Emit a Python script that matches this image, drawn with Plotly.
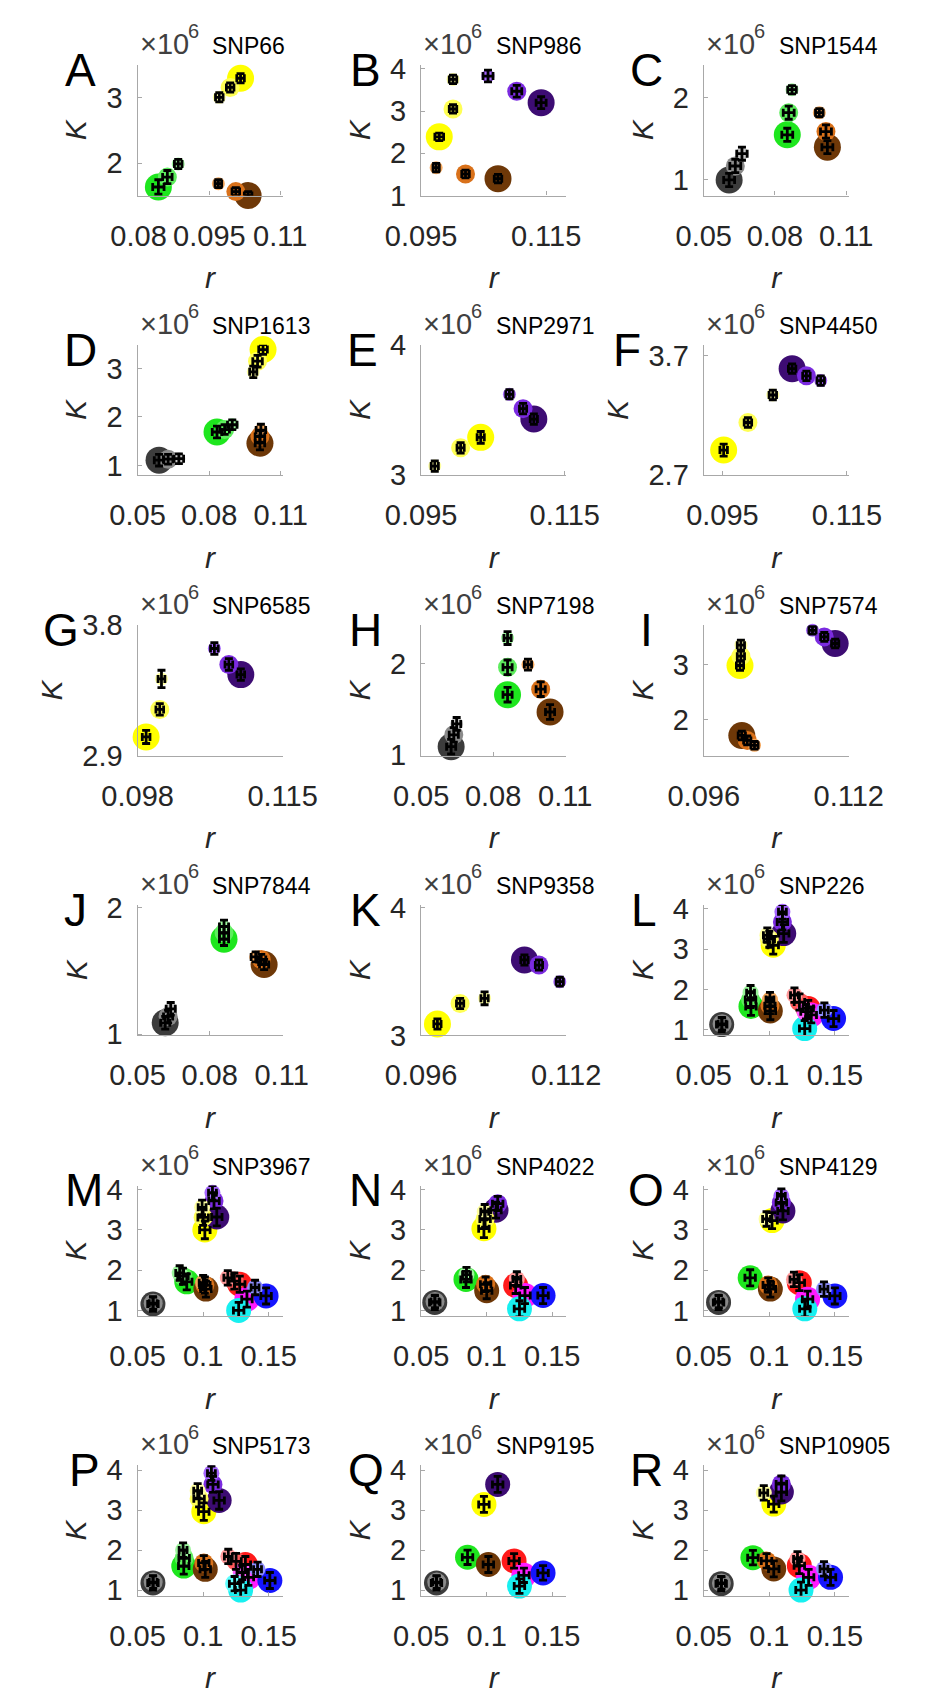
import plotly.graph_objects as go

W, H = 929, 1701
FONT = "Liberation Sans, Arial, Helvetica, sans-serif"

# ------------------------------------------------------------------ data
LETTERS = list("ABCDEFGHIJKLMNOPQR")
SNPS = ["SNP66", "SNP986", "SNP1544", "SNP1613", "SNP2971", "SNP4450",
        "SNP6585", "SNP7198", "SNP7574", "SNP7844", "SNP9358", "SNP226",
        "SNP3967", "SNP4022", "SNP4129", "SNP5173", "SNP9195", "SNP10905"]

# axis limits (r) and (K in units of 10^6)
X_RANGES = [[0.0798, 0.1105], [0.095, 0.1182], [0.05, 0.1111], [0.05, 0.1108],
            [0.095, 0.1152], [0.092, 0.1153], [0.098, 0.115], [0.05, 0.1104],
            [0.096, 0.112], [0.05, 0.1104], [0.096, 0.112], [0.05, 0.1606],
            [0.05, 0.1606], [0.05, 0.1606], [0.05, 0.1606], [0.05, 0.1606],
            [0.05, 0.1606], [0.05, 0.1606]]
Y_RANGES = [[1.51, 3.49], [1.0, 4.09], [0.81, 2.40], [0.8, 3.49],
            [3.0, 4.0], [2.7, 3.79], [2.9, 3.8], [0.99, 2.42],
            [1.34, 3.71], [0.99, 2.02], [3.0, 4.02], [0.86, 4.1],
            [0.86, 4.1], [0.86, 4.1], [0.86, 4.1], [0.86, 4.12],
            [0.86, 4.12], [0.86, 4.12]]
X_TICKS = [[0.08, 0.095, 0.11], [0.095, 0.115], [0.05, 0.08, 0.11], [0.05, 0.08, 0.11],
           [0.095, 0.115], [0.095, 0.115], [0.098, 0.115], [0.05, 0.08, 0.11],
           [0.096, 0.112], [0.05, 0.08, 0.11], [0.096, 0.112], [0.05, 0.1, 0.15],
           [0.05, 0.1, 0.15], [0.05, 0.1, 0.15], [0.05, 0.1, 0.15], [0.05, 0.1, 0.15],
           [0.05, 0.1, 0.15], [0.05, 0.1, 0.15]]
Y_TICKS = [[2, 3], [1, 2, 3, 4], [1, 2], [1, 2, 3],
           [3, 4], [2.7, 3.7], [2.9, 3.8], [1, 2],
           [2, 3], [1, 2], [3, 4], [1, 2, 3, 4],
           [1, 2, 3, 4], [1, 2, 3, 4], [1, 2, 3, 4], [1, 2, 3, 4],
           [1, 2, 3, 4], [1, 2, 3, 4]]

# points: x = r, y = K (x10^6), c = colour group, s = size class (0 small,1 medium,2 large)
A_x = [0.0842, 0.0861, 0.0884, 0.0971, 0.0994, 0.1016, 0.0969, 0.1006, 0.1032]
A_y = [1.64, 1.79, 1.99, 3.00, 3.15, 3.29, 1.69, 1.57, 1.51]
A_c = "gggyyyooo"
A_s = [2, 1, 0, 0, 1, 2, 0, 1, 2]
A_ex = [0.0012, 0.001, 0.0008, 0.0008, 0.0008, 0.0008, 0.0007, 0.0008, 0.0008]
A_ey = [0.11, 0.10, 0.07, 0.07, 0.07, 0.07, 0.06, 0.06, 0.06]

B_x = [0.1001, 0.1001, 0.0979, 0.0974, 0.1021, 0.1073, 0.1057, 0.1103, 0.1142]
B_y = [3.75, 3.05, 2.39, 1.66, 1.51, 1.40, 3.83, 3.47, 3.20]
B_c = "yyyoooppp"
B_s = [0, 1, 2, 0, 1, 2, 0, 1, 2]
B_ex = [0.0006, 0.0006, 0.0007, 0.0005, 0.0006, 0.0006, 0.0008, 0.0008, 0.0008]
B_ey = [0.10, 0.10, 0.09, 0.10, 0.09, 0.10, 0.14, 0.14, 0.14]

C_x = [0.0607, 0.0633, 0.0661, 0.0852, 0.0858, 0.0872, 0.1021, 0.1015, 0.0987]
C_y = [1.00, 1.17, 1.32, 1.55, 1.82, 2.10, 1.40, 1.59, 1.82]
C_c = "kkkgggooo"
C_s = [2, 1, 0, 2, 1, 0, 2, 1, 0]
C_ex = [0.0023, 0.0023, 0.0022, 0.0023, 0.0023, 0.0018, 0.0023, 0.0023, 0.0016]
C_ey = [0.08, 0.08, 0.08, 0.08, 0.08, 0.05, 0.08, 0.08, 0.05]

D_x = [0.0590, 0.0628, 0.0673, 0.0833, 0.0865, 0.0897, 0.1013, 0.1013, 0.1017, 0.1026, 0.1003, 0.0985]
D_y = [1.11, 1.13, 1.14, 1.69, 1.74, 1.84, 1.46, 1.60, 1.73, 3.39, 3.15, 2.93]
D_c = "kkkgggoooyyy"
D_s = [2, 1, 0, 2, 1, 0, 2, 1, 0, 2, 1, 0]
D_ex = [0.002, 0.002, 0.002, 0.002, 0.002, 0.002, 0.002, 0.002, 0.002, 0.0018, 0.002, 0.0015]
D_ey = [0.12, 0.10, 0.10, 0.12, 0.10, 0.10, 0.14, 0.12, 0.12, 0.10, 0.12, 0.12]

E_x = [0.0969, 0.1005, 0.1033, 0.1073, 0.1092, 0.1107]
E_y = [3.07, 3.21, 3.29, 3.62, 3.51, 3.43]
E_c = "yyyppp"
E_s = [0, 1, 2, 0, 1, 2]
E_ex = [0.0005, 0.0005, 0.0005, 0.0005, 0.0005, 0.0005]
E_ey = [0.04, 0.04, 0.045, 0.035, 0.04, 0.04]

F_x = [0.0952, 0.0991, 0.1031, 0.1062, 0.1085, 0.1108]
F_y = [2.91, 3.14, 3.37, 3.59, 3.53, 3.49]
F_c = "yyyppp"
F_s = [2, 1, 0, 2, 1, 0]
F_ex = [0.0006, 0.0006, 0.0006, 0.0006, 0.0006, 0.0006]
F_ey = [0.05, 0.04, 0.04, 0.04, 0.04, 0.04]

G_x = [0.0990, 0.1006, 0.1008, 0.1070, 0.1087, 0.1101]
G_y = [3.03, 3.22, 3.43, 3.64, 3.53, 3.46]
G_c = "yyyppp"
G_s = [2, 1, 0, 0, 1, 2]
G_ex = [0.00045, 0.00045, 0.0004, 0.00045, 0.00045, 0.00045]
G_ey = [0.045, 0.04, 0.06, 0.04, 0.04, 0.04]

H_x = [0.0625, 0.0636, 0.0648, 0.0860, 0.0860, 0.0860, 0.0945, 0.0998, 0.1037]
H_y = [1.09, 1.22, 1.34, 1.66, 1.96, 2.28, 1.99, 1.72, 1.47]
H_c = "kkkgggooo"
H_s = [2, 1, 0, 2, 1, 0, 0, 1, 2]
H_ex = [0.0019, 0.0019, 0.0017, 0.0019, 0.0019, 0.0015, 0.0015, 0.0019, 0.0019]
H_ey = [0.08, 0.08, 0.07, 0.08, 0.08, 0.07, 0.06, 0.08, 0.08]

I_x = [0.1000, 0.1001, 0.1001, 0.1002, 0.1008, 0.1016, 0.1080, 0.1093, 0.1105]
I_y = [2.98, 3.15, 3.35, 1.71, 1.62, 1.53, 3.62, 3.50, 3.38]
I_c = "yyyoooppp"
I_s = [2, 1, 0, 2, 1, 0, 0, 1, 2]
I_ex = [0.0004, 0.0004, 0.0004, 0.0004, 0.0004, 0.0004, 0.0004, 0.0004, 0.0004]
I_ey = [0.09, 0.09, 0.09, 0.08, 0.08, 0.07, 0.07, 0.08, 0.08]

J_x = [0.0615, 0.0627, 0.0638, 0.0860, 0.0860, 0.0860, 0.1027, 0.1015, 0.0992]
J_y = [1.09, 1.14, 1.20, 1.75, 1.80, 1.85, 1.55, 1.59, 1.61]
J_c = "kkkgggooo"
J_s = [2, 1, 0, 2, 1, 0, 2, 1, 0]
J_ex = [0.0019, 0.0019, 0.0019, 0.0019, 0.0019, 0.0019, 0.0019, 0.0019, 0.0019]
J_ey = [0.05, 0.05, 0.05, 0.05, 0.05, 0.05, 0.04, 0.04, 0.04]

K_x = [0.0978, 0.1003, 0.1030, 0.1074, 0.1090, 0.1113]
K_y = [3.09, 3.25, 3.29, 3.59, 3.55, 3.42]
K_c = "yyyppp"
K_s = [2, 1, 0, 2, 1, 0]
K_ex = [0.0004, 0.0004, 0.0004, 0.0004, 0.0004, 0.0004]
K_ey = [0.04, 0.04, 0.05, 0.04, 0.04, 0.035]

L_x = [0.0637, 0.0640, 0.0860, 0.0857, 0.0857, 0.1030, 0.1000, 0.0985, 0.1110, 0.1100, 0.1100,
       0.1008, 0.1005, 0.1005, 0.1297, 0.1230, 0.1192, 0.1320, 0.1280, 0.1270, 0.1490, 0.1420]
L_y = [1.13, 1.15, 1.58, 1.75, 1.92, 3.10, 3.25, 3.35, 3.39, 3.68, 3.93,
       1.47, 1.60, 1.75, 1.53, 1.69, 1.86, 1.37, 1.45, 1.03, 1.28, 1.49]
L_c = "kkgggyyypppooorrrmmcbb"
L_s = [2, 1, 2, 1, 0, 2, 1, 0, 2, 1, 0, 2, 1, 0, 2, 1, 0, 2, 1, 2, 2, 0]
L_ex = [0.004, 0.003, 0.004, 0.004, 0.003, 0.004, 0.004, 0.003, 0.004, 0.004, 0.003,
        0.004, 0.004, 0.003, 0.004, 0.004, 0.003, 0.004, 0.004, 0.004, 0.004, 0.003]
L_ey = [0.18, 0.15, 0.22, 0.20, 0.18, 0.22, 0.20, 0.18, 0.22, 0.20, 0.18,
        0.22, 0.20, 0.18, 0.20, 0.20, 0.18, 0.20, 0.18, 0.20, 0.20, 0.18]

M_x = [0.0617, 0.0619, 0.0875, 0.0846, 0.0821, 0.1021, 0.1013, 0.1000, 0.1013, 0.1000, 0.0992, 0.1104,
       0.1083, 0.1071, 0.1279, 0.1238, 0.1188, 0.1334, 0.1271, 0.1480, 0.1396]
M_y = [1.16, 1.18, 1.71, 1.85, 1.93, 1.53, 1.63, 1.69, 3.00, 3.31, 3.56, 3.32,
       3.72, 3.92, 1.65, 1.73, 1.81, 1.28, 1.00, 1.36, 1.57]
M_c = "kkgggoooyyyppprrrmcbb"
M_s = [2, 1, 2, 1, 0, 2, 1, 0, 2, 1, 0, 2, 1, 0, 2, 1, 0, 2, 2, 2, 0]
M_ex = [0.004, 0.003, 0.004, 0.004, 0.003, 0.004, 0.004, 0.003, 0.004, 0.004, 0.003, 0.004,
        0.004, 0.003, 0.004, 0.004, 0.003, 0.004, 0.004, 0.004, 0.003]
M_ey = [0.18, 0.15, 0.20, 0.20, 0.18, 0.20, 0.20, 0.18, 0.22, 0.20, 0.18, 0.22,
        0.20, 0.18, 0.20, 0.20, 0.18, 0.20, 0.20, 0.20, 0.18]

N_x = [0.0604, 0.0606, 0.0842, 0.0846, 0.1000, 0.0992, 0.0979, 0.0988, 0.0985, 0.1071, 0.1084,
       0.1221, 0.1230, 0.1292, 0.1250, 0.1430]
N_y = [1.20, 1.22, 1.77, 1.89, 1.49, 1.65, 3.03, 3.27, 3.45, 3.49, 3.65,
       1.62, 1.78, 1.37, 1.04, 1.37]
N_c = "kkggooyyypprrmcb"
N_s = [2, 1, 2, 0, 2, 1, 2, 1, 0, 2, 1, 2, 0, 2, 2, 2]
N_ex = [0.004, 0.003, 0.004, 0.003, 0.004, 0.004, 0.004, 0.004, 0.003, 0.004, 0.004,
        0.004, 0.003, 0.004, 0.004, 0.004]
N_ey = [0.18, 0.15, 0.20, 0.18, 0.20, 0.18, 0.22, 0.20, 0.18, 0.20, 0.18,
        0.20, 0.18, 0.20, 0.20, 0.20]

O_x = [0.0613, 0.0615, 0.0854, 0.1008, 0.0992, 0.1021, 0.0979, 0.1104, 0.1092, 0.1092,
       0.1229, 0.1188, 0.1292, 0.1271, 0.1500, 0.1417]
O_y = [1.20, 1.22, 1.81, 1.53, 1.63, 3.23, 3.27, 3.47, 3.68, 3.84,
       1.69, 1.77, 1.28, 1.04, 1.36, 1.53]
O_c = "kkgooyyppprrmcbb"
O_s = [2, 1, 2, 2, 1, 2, 0, 2, 1, 0, 2, 0, 2, 2, 2, 0]
O_ex = [0.004, 0.003, 0.004, 0.004, 0.004, 0.004, 0.003, 0.004, 0.004, 0.003,
        0.004, 0.003, 0.004, 0.004, 0.004, 0.003]
O_ey = [0.18, 0.15, 0.20, 0.20, 0.18, 0.20, 0.18, 0.22, 0.20, 0.18,
        0.20, 0.18, 0.20, 0.20, 0.20, 0.18]

P_x = [0.0617, 0.0619, 0.0852, 0.0855, 0.0847, 0.1016, 0.1005, 0.1005, 0.0969, 0.0958, 0.1122, 0.1075,
       0.1063, 0.1322, 0.1251, 0.1192, 0.1345, 0.1298, 0.1286, 0.1240, 0.1509, 0.1415]
P_y = [1.18, 1.20, 1.60, 1.80, 2.00, 1.52, 1.68, 2.96, 3.28, 3.48, 3.24, 3.64,
       3.92, 1.64, 1.72, 1.84, 1.32, 1.44, 1.00, 1.16, 1.24, 1.52]
P_c = "kkgggooyyyppprrrmmccbb"
P_s = [2, 1, 2, 1, 0, 2, 1, 2, 1, 0, 2, 1, 0, 2, 1, 0, 2, 1, 2, 1, 2, 0]
P_ex = [0.004, 0.003, 0.004, 0.004, 0.003, 0.004, 0.004, 0.004, 0.004, 0.003, 0.004, 0.004,
        0.003, 0.004, 0.004, 0.003, 0.004, 0.004, 0.004, 0.004, 0.004, 0.003]
P_ey = [0.18, 0.15, 0.20, 0.20, 0.18, 0.20, 0.18, 0.22, 0.20, 0.18, 0.22, 0.20,
        0.18, 0.20, 0.20, 0.18, 0.20, 0.18, 0.20, 0.18, 0.20, 0.18]

Q_x = [0.0617, 0.0619, 0.0854, 0.1013, 0.0979, 0.1084, 0.1209, 0.1284, 0.1250, 0.1430]
Q_y = [1.18, 1.20, 1.82, 1.64, 3.14, 3.64, 1.73, 1.37, 1.10, 1.43]
Q_c = "kkgoyprmcb"
Q_s = [2, 1, 2, 2, 2, 2, 2, 2, 2, 2]
Q_ex = [0.004, 0.003, 0.004, 0.004, 0.004, 0.004, 0.004, 0.004, 0.004, 0.004]
Q_ey = [0.18, 0.15, 0.18, 0.20, 0.20, 0.20, 0.18, 0.18, 0.18, 0.18]

R_x = [0.0633, 0.0635, 0.0875, 0.1034, 0.0979, 0.1034, 0.0958, 0.1092, 0.1092,
       0.1229, 0.1215, 0.1300, 0.1242, 0.1467, 0.1417]
R_y = [1.16, 1.18, 1.81, 1.53, 1.73, 3.15, 3.43, 3.45, 3.65,
       1.61, 1.78, 1.32, 1.00, 1.32, 1.53]
R_c = "kkgooyypprrmcbb"
R_s = [2, 1, 2, 2, 1, 2, 0, 2, 1, 2, 0, 2, 2, 2, 0]
R_ex = [0.004, 0.003, 0.004, 0.004, 0.004, 0.004, 0.003, 0.004, 0.004,
        0.004, 0.003, 0.004, 0.004, 0.004, 0.003]
R_ey = [0.18, 0.15, 0.18, 0.20, 0.18, 0.20, 0.18, 0.22, 0.20,
        0.20, 0.18, 0.20, 0.20, 0.20, 0.18]

PANELS = [
    (A_x, A_y, A_c, A_s, A_ex, A_ey), (B_x, B_y, B_c, B_s, B_ex, B_ey),
    (C_x, C_y, C_c, C_s, C_ex, C_ey), (D_x, D_y, D_c, D_s, D_ex, D_ey),
    (E_x, E_y, E_c, E_s, E_ex, E_ey), (F_x, F_y, F_c, F_s, F_ex, F_ey),
    (G_x, G_y, G_c, G_s, G_ex, G_ey), (H_x, H_y, H_c, H_s, H_ex, H_ey),
    (I_x, I_y, I_c, I_s, I_ex, I_ey), (J_x, J_y, J_c, J_s, J_ex, J_ey),
    (K_x, K_y, K_c, K_s, K_ex, K_ey), (L_x, L_y, L_c, L_s, L_ex, L_ey),
    (M_x, M_y, M_c, M_s, M_ex, M_ey), (N_x, N_y, N_c, N_s, N_ex, N_ey),
    (O_x, O_y, O_c, O_s, O_ex, O_ey), (P_x, P_y, P_c, P_s, P_ex, P_ey),
    (Q_x, Q_y, Q_c, Q_s, Q_ex, Q_ey), (R_x, R_y, R_c, R_s, R_ex, R_ey),
]

# ------------------------------------------------------------------ style
SHADES = {
    "k": ["#c4c4c4", "#8a8a8a", "#3c3c3c"],
    "g": ["#9cf59c", "#5eed5e", "#1ee61e"],
    "y": ["#ffffa0", "#ffff55", "#ffff00"],
    "o": ["#f5a75c", "#d9711a", "#6e3808"],
    "p": ["#a565ff", "#7b2be0", "#3d0c73"],
    "r": ["#ff9a9a", "#ff5a5a", "#ff1a1a"],
    "b": ["#8f8fff", "#5a5aff", "#1515ff"],
    "c": ["#a8ffff", "#60ffff", "#18f0f0"],
    "m": ["#ffa0ff", "#ff5cff", "#ff1aff"],
}
SIZES_TOP = [13, 19, 27]
SIZES_BOTTOM = [16, 19, 25]

COL_LEFT = [110, 417, 723]
ROW_BOTTOM = [183, 468, 754, 1039, 1325, 1610]
PW, PH = 157, 133
LETTER_DX = [62, 60, 62, 62, 64, 83, 83, 60, 62, 67, 60, 65, 58, 60, 62, 58, 60, 62]

AXIS_GRAY = "#a8a8a8"
TXT = "#262626"

fig = go.Figure()
layout = dict(
    width=W, height=H, margin=dict(l=0, r=0, t=0, b=0), autosize=False,
    paper_bgcolor="white", plot_bgcolor="white", showlegend=False,
    font=dict(family=FONT, color=TXT),
)
annotations = []


def fmt(v):
    return f"{v:g}"


def pan(text, px, py, size, color, xanchor="left", yanchor="bottom"):
    return dict(text=text, x=px / W, y=1 - py / H, xref="paper", yref="paper",
                xanchor=xanchor, yanchor=yanchor, showarrow=False, borderpad=0,
                font=dict(family=FONT, size=size, color=color))


for i, (xs, ys, cs, ss, exs, eys) in enumerate(PANELS):
    r, c = divmod(i, 3)
    n = "" if i == 0 else str(i + 1)
    left = COL_LEFT[c]
    bottom = ROW_BOTTOM[r]
    top = bottom - PH
    sizes = SIZES_TOP if i < 11 else SIZES_BOTTOM

    order = sorted(range(len(xs)), key=lambda k: -ss[k])
    fig.add_trace(go.Scatter(
        x=[xs[k] for k in order], y=[ys[k] for k in order], mode="markers",
        marker=dict(size=[sizes[ss[k]] for k in order],
                    color=[SHADES[cs[k]][ss[k]] for k in order],
                    line=dict(width=0), opacity=1),
        cliponaxis=False, xaxis="x" + n, yaxis="y" + n, hoverinfo="skip"))
    fig.add_trace(go.Scatter(
        x=xs, y=ys, mode="markers",
        marker=dict(size=1, color="rgba(0,0,0,0)"),
        error_x=dict(type="data", array=exs, color="black", thickness=2.8, width=4),
        error_y=dict(type="data", array=eys, color="black", thickness=2.8, width=4),
        cliponaxis=False, xaxis="x" + n, yaxis="y" + n, hoverinfo="skip"))

    common = dict(showgrid=False, zeroline=False, showline=True, linecolor=AXIS_GRAY,
                  linewidth=1.3, ticks="inside", ticklen=4, tickwidth=1, tickcolor=AXIS_GRAY,
                  tickfont=dict(family=FONT, size=29, color=TXT), fixedrange=True)
    layout["xaxis" + n] = dict(
        common, domain=[left / W, (left + PW) / W], range=X_RANGES[i],
        tickvals=X_TICKS[i], ticktext=[fmt(v) for v in X_TICKS[i]],
        anchor="y" + n, ticklabelstandoff=14,
        title=dict(text="r", font=dict(family=FONT, size=30, color=TXT, style="italic"),
                   standoff=16))
    layout["yaxis" + n] = dict(
        common, domain=[1 - bottom / H, 1 - top / H], range=Y_RANGES[i],
        tickvals=Y_TICKS[i], ticktext=[fmt(v) for v in Y_TICKS[i]],
        anchor="x" + n, ticklabelstandoff=8,
        title=dict(text="K", font=dict(family=FONT, size=30, color=TXT, style="italic"),
                   standoff=10))

    annotations.append(pan(LETTERS[i], left - LETTER_DX[i], top + 5, 46, "black",
                           xanchor="center", yanchor="middle"))
    annotations.append(pan("×10", left + 1, top - 4, 29, "#404040"))
    annotations.append(pan("6", left + 53, top - 22, 20, "#404040"))
    annotations.append(pan(SNPS[i], left + 80, top - 5, 23, "black"))

layout["annotations"] = annotations
fig.update_layout(**layout)
fig.write_html("out.html")
